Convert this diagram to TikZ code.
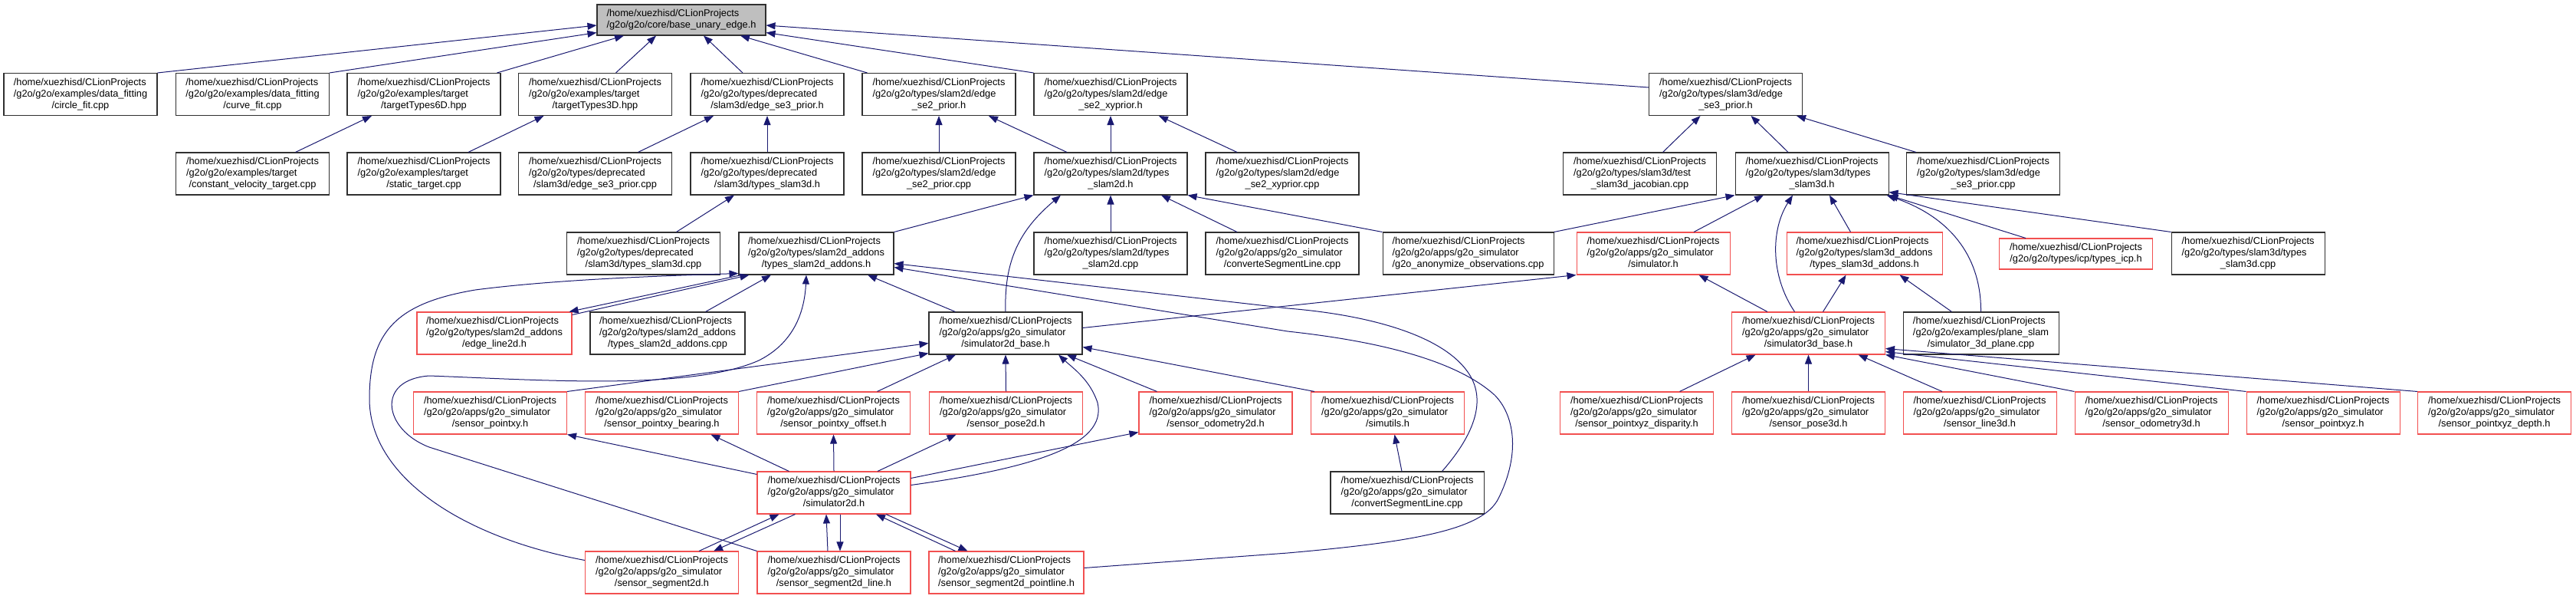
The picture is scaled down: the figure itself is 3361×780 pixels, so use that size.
\documentclass[tikz,border=0pt]{standalone}
\usepackage{fontspec}
\setmainfont{Liberation Sans}
\usetikzlibrary{arrows.meta}
\definecolor{eblue}{HTML}{191970}
\definecolor{bred}{HTML}{F25050}
\definecolor{tgray}{HTML}{BFBFBF}
\definecolor{bblack}{HTML}{303030}
\newcommand\lbl[3]{\begin{tabular}{@{}l@{}}#1\\#2\\\multicolumn{1}{@{}c@{}}{#3}\end{tabular}}
\newcommand\lbltwo[2]{\begin{tabular}{@{}l@{}}#1\\\multicolumn{1}{@{}c@{}}{#2}\end{tabular}}
\newcommand\xhome{/home/xuezhisd/CLionProjects}
\newcommand\xsim{/g2o/g2o/apps/g2o\_simulator}
\newcommand\xsl[1]{\lbl{\xhome}{\xsim}{#1}}
\begin{document}
\begin{tikzpicture}[x=1pt,y=-1pt,
  box/.style={draw=bblack,line width=1.05pt,fill=white,minimum width=200pt,minimum height=55pt,inner sep=0pt,font=\fontsize{12.8}{15}\selectfont},
  rbox/.style={box,draw=bred},
  topbox/.style={box,fill=tgray,minimum width=220pt,minimum height=40pt},
  e/.style={draw=eblue,line width=1pt,-{Triangle[length=12pt,width=9pt]}}]
\useasboundingbox (0,0) rectangle (3361,780);
% row 0
\node[topbox] (top) at (889,26) {\lbltwo{\xhome}{/g2o/g2o/core/base\_unary\_edge.h}};
% row 1
\node[box] (n1a) at (105,123) {\lbl{\xhome}{/g2o/g2o/examples/data\_fitting}{/circle\_fit.cpp}};
\node[box] (n1b) at (329.5,123) {\lbl{\xhome}{/g2o/g2o/examples/data\_fitting}{/curve\_fit.cpp}};
\node[box] (n1c) at (553,123) {\lbl{\xhome}{/g2o/g2o/examples/target}{/targetTypes6D.hpp}};
\node[box] (n1d) at (776.5,123) {\lbl{\xhome}{/g2o/g2o/examples/target}{/targetTypes3D.hpp}};
\node[box] (n1e) at (1001,123) {\lbl{\xhome}{/g2o/g2o/types/deprecated}{/slam3d/edge\_se3\_prior.h}};
\node[box] (n1f) at (1225,123) {\lbl{\xhome}{/g2o/g2o/types/slam2d/edge}{\_se2\_prior.h}};
\node[box] (n1g) at (1449,123) {\lbl{\xhome}{/g2o/g2o/types/slam2d/edge}{\_se2\_xyprior.h}};
\node[box] (n1h) at (2251.5,123) {\lbl{\xhome}{/g2o/g2o/types/slam3d/edge}{\_se3\_prior.h}};
% row 2
\node[box] (n2a) at (329.5,226.5) {\lbl{\xhome}{/g2o/g2o/examples/target}{/constant\_velocity\_target.cpp}};
\node[box] (n2b) at (553,226.5) {\lbl{\xhome}{/g2o/g2o/examples/target}{/static\_target.cpp}};
\node[box] (n2c) at (776.5,226.5) {\lbl{\xhome}{/g2o/g2o/types/deprecated}{/slam3d/edge\_se3\_prior.cpp}};
\node[box] (n2d) at (1001,226.5) {\lbl{\xhome}{/g2o/g2o/types/deprecated}{/slam3d/types\_slam3d.h}};
\node[box] (n2e) at (1225,226.5) {\lbl{\xhome}{/g2o/g2o/types/slam2d/edge}{\_se2\_prior.cpp}};
\node[box] (n2f) at (1449,226.5) {\lbl{\xhome}{/g2o/g2o/types/slam2d/types}{\_slam2d.h}};
\node[box] (n2g) at (1673,226.5) {\lbl{\xhome}{/g2o/g2o/types/slam2d/edge}{\_se2\_xyprior.cpp}};
\node[box] (n2h) at (2139.5,226.5) {\lbl{\xhome}{/g2o/g2o/types/slam3d/test}{\_slam3d\_jacobian.cpp}};
\node[box] (n2i) at (2364,226.5) {\lbl{\xhome}{/g2o/g2o/types/slam3d/types}{\_slam3d.h}};
\node[box] (n2j) at (2587.5,226.5) {\lbl{\xhome}{/g2o/g2o/types/slam3d/edge}{\_se3\_prior.cpp}};
% row 3
\node[box] (n3a) at (839.5,330.5) {\lbl{\xhome}{/g2o/g2o/types/deprecated}{/slam3d/types\_slam3d.cpp}};
\node[box,minimum width=202pt] (n3b) at (1065,330.5) {\lbl{\xhome}{/g2o/g2o/types/slam2d\_addons}{/types\_slam2d\_addons.h}};
\node[box] (n3c) at (1449,330.5) {\lbl{\xhome}{/g2o/g2o/types/slam2d/types}{\_slam2d.cpp}};
\node[box] (n3d) at (1673,330.5) {\xsl{/converteSegmentLine.cpp}};
\node[box,minimum width=223pt] (n3e) at (1915.5,330.5) {\xsl{/g2o\_anonymize\_observations.cpp}};
\node[rbox] (n3f) at (2157,330.5) {\xsl{/simulator.h}};
\node[rbox,minimum width=203pt] (n3g) at (2432.5,330.5) {\lbl{\xhome}{/g2o/g2o/types/slam3d\_addons}{/types\_slam3d\_addons.h}};
\node[rbox,minimum height=40pt] (n3h) at (2708.5,331) {\lbltwo{\xhome}{/g2o/g2o/types/icp/types\_icp.h}};
\node[box] (n3i) at (2933,330.5) {\lbl{\xhome}{/g2o/g2o/types/slam3d/types}{\_slam3d.cpp}};
% row 4
\node[rbox,minimum width=202pt] (n4a) at (645,434.5) {\lbl{\xhome}{/g2o/g2o/types/slam2d\_addons}{/edge\_line2d.h}};
\node[box,minimum width=202pt] (n4b) at (871,434.5) {\lbl{\xhome}{/g2o/g2o/types/slam2d\_addons}{/types\_slam2d\_addons.cpp}};
\node[box] (n4c) at (1312,434.5) {\xsl{/simulator2d\_base.h}};
\node[rbox] (n4d) at (2359.5,434.5) {\xsl{/simulator3d\_base.h}};
\node[box,minimum width=203pt] (n4e) at (2584.5,434.5) {\lbl{\xhome}{/g2o/g2o/examples/plane\_slam}{/simulator\_3d\_plane.cpp}};
% row 5
\node[rbox] (n5a) at (639.5,538.5) {\xsl{/sensor\_pointxy.h}};
\node[rbox] (n5b) at (863.5,538.5) {\xsl{/sensor\_pointxy\_bearing.h}};
\node[rbox] (n5c) at (1087.5,538.5) {\xsl{/sensor\_pointxy\_offset.h}};
\node[rbox] (n5d) at (1312.5,538.5) {\xsl{/sensor\_pose2d.h}};
\node[rbox] (n5e) at (1586,538.5) {\xsl{/sensor\_odometry2d.h}};
\node[rbox] (n5f) at (1810.5,538.5) {\xsl{/simutils.h}};
\node[rbox] (n5g) at (2135.5,538.5) {\xsl{/sensor\_pointxyz\_disparity.h}};
\node[rbox] (n5h) at (2359.5,538.5) {\xsl{/sensor\_pose3d.h}};
\node[rbox] (n5i) at (2583,538.5) {\xsl{/sensor\_line3d.h}};
\node[rbox] (n5j) at (2807,538.5) {\xsl{/sensor\_odometry3d.h}};
\node[rbox] (n5k) at (3031,538.5) {\xsl{/sensor\_pointxyz.h}};
\node[rbox] (n5l) at (3254.5,538.5) {\xsl{/sensor\_pointxyz\_depth.h}};
% row 6
\node[rbox] (n6a) at (1088,642.5) {\xsl{/simulator2d.h}};
\node[box] (n6b) at (1836,642.5) {\xsl{/convertSegmentLine.cpp}};
% row 7
\node[rbox] (n7a) at (863.5,746.5) {\xsl{/sensor\_segment2d.h}};
\node[rbox] (n7b) at (1088,746.5) {\xsl{/sensor\_segment2d\_line.h}};
\node[rbox,minimum width=202pt] (n7c) at (1313,746.5) {\xsl{/sensor\_segment2d\_pointline.h}};
% edges to top
\draw[e] (n1a.north east) -- ([yshift=-7pt]top.west);
\draw[e] (n1b.north east) -- ([yshift=4pt]top.south west);
\draw[e] ([xshift=-5pt]n1c.north east) -- ([xshift=-75pt]top.south);
\draw[e] ([xshift=27pt]n1d.north) -- ([xshift=-33pt]top.south);
\draw[e] ([xshift=-32pt]n1e.north) -- ([xshift=29pt]top.south);
\draw[e] ([xshift=7pt]n1f.north west) -- ([xshift=77pt]top.south);
\draw[e] (n1g.north west) -- ([yshift=4pt]top.south east);
\draw[e] ([yshift=9pt]n1h.west) -- ([yshift=-7pt]top.east);
% row 2 -> row 1
\draw[e] ([xshift=56pt]n2a.north) -- ([xshift=-68pt]n1c.south);
\draw[e] ([xshift=58pt]n2b.north) -- ([xshift=-67pt]n1d.south);
\draw[e] ([xshift=56pt]n2c.north) -- ([xshift=-70pt]n1e.south);
\draw[e] (n2d.north) -- (n1e.south);
\draw[e] (n2e.north) -- (n1f.south);
\draw[e] ([xshift=-57pt]n2f.north) -- ([xshift=65pt]n1f.south);
\draw[e] (n2f.north) -- (n1g.south);
\draw[e] ([xshift=-59pt]n2g.north) -- ([xshift=63pt]n1g.south);
\draw[e] ([xshift=30pt]n2h.north) -- ([xshift=-33pt]n1h.south);
\draw[e] ([xshift=-31pt]n2i.north) -- ([xshift=33pt]n1h.south);
\draw[e] ([xshift=13pt]n2j.north west) -- ([xshift=-8pt]n1h.south east);
% row 3 -> row 2
\draw[e] ([xshift=43pt]n3a.north) -- ([xshift=-43pt]n2d.south);
\draw[e] (n3b.north east) -- (n2f.south west);
\draw[e] (n4c.north) .. controls (1310,340) and (1330,300) .. ([xshift=-65pt]n2f.south);
\draw[e] (n3c.north) -- (n2f.south);
\draw[e] ([xshift=-59pt]n3d.north) -- ([xshift=66pt]n2f.south);
\draw[e] (n3e.north west) -- (n2f.south east);
\draw[e] (n3e.north east) -- (n2i.south west);
\draw[e] ([xshift=53pt]n3f.north) -- ([xshift=-63pt]n2i.south);
\draw[e] ([xshift=-18pt]n4d.north) .. controls (2310,360) and (2310,300) .. ([xshift=-25pt]n2i.south);
\draw[e] ([xshift=-18pt]n3g.north) -- ([xshift=23pt]n2i.south);
\draw[e] ([xshift=35pt]n3h.north west) -- (n2i.south east);
\draw[e] (n3i.north west) -- ([yshift=4pt]n2i.south east);
\draw[e] (n4e.north) .. controls (2585,340) and (2550,285) .. ([xshift=-3pt]n2i.south east);
% into simulator.h and types_slam3d_addons.h
\draw[e] ([yshift=7pt]n4c.east) -- (n3f.south west);
\draw[e] ([xshift=47pt]n4d.north west) -- ([xshift=-41pt]n3f.south east);
\draw[e] ([xshift=19pt]n4d.north) -- ([xshift=-24pt]n3g.south);
\draw[e] ([xshift=64pt]n4e.north west) -- ([xshift=46pt]n3g.south);
% into simulator3d_base.h
\draw[e] ([xshift=56pt]n5g.north) -- ([xshift=-69pt]n4d.south);
\draw[e] (n5h.north) -- (n4d.south);
\draw[e] ([xshift=-49pt]n5i.north) -- ([xshift=65pt]n4d.south);
\draw[e] (n5j.north west) -- (n4d.south east);
\draw[e] (n5k.north west) -- ([yshift=4pt]n4d.south east);
\draw[e] (n5l.north west) -- ([yshift=8pt]n4d.south east);
% into types_slam2d_addons.h
\draw[e] ([xshift=4pt]n3b.south west) -- ([xshift=-4pt]n4a.north east);
\draw[e] ([yshift=-4pt]n4a.north east) -- ([xshift=14pt]n3b.south west);
\draw[e] ([xshift=-52pt]n4b.north east) -- ([xshift=-59pt]n3b.south);
\draw[e] ([xshift=35pt]n4c.north west) -- ([xshift=67pt]n3b.south);
\draw[e] ([yshift=16pt]n7a.west) .. controls (600,700) and (482,620) .. (482,520)
   .. controls (482,430) and (520,395) .. (620,378) .. controls (720,365) and (850,360) .. ([yshift=2pt]n3b.south west);
\draw[e] (n7b.north west) -- (560,583) .. controls (500,560) and (490,495) .. (560,490)
   .. controls (700,495) and (900,510) .. (990,470) .. controls (1040,445) and (1050,400) .. ([xshift=-13pt]n3b.south);
\draw[e] ([xshift=-55pt]n6b.north east) .. controls (1925,565) and (1940,520) .. (1915,485)
   .. controls (1880,435) and (1780,410) .. (1680,402) -- ([yshift=-13pt]n3b.east);
\draw[e] ([yshift=6pt]n7c.east) -- (1680,721) .. controls (1850,706) and (1935,690) .. (1955,650)
   .. controls (1985,590) and (1975,540) .. (1950,515) .. controls (1900,470) and (1800,445) .. (1680,432)
   -- ([yshift=-18pt]n3b.east);
% into simulator2d_base.h
\draw[e] (n5a.north east) -- ([yshift=-13pt]n4c.west);
\draw[e] (n5b.north east) -- ([yshift=2pt]n4c.south west);
\draw[e] ([xshift=57pt]n5c.north) -- ([xshift=-65pt]n4c.south);
\draw[e] (n5d.north) -- (n4c.south);
\draw[e] ([yshift=10pt]n6a.east) .. controls (1350,610) and (1445,580) .. (1432,525)
   .. controls (1422,495) and (1400,480) .. ([xshift=69pt]n4c.south);
\draw[e] ([xshift=24pt]n5e.north west) -- ([xshift=80pt]n4c.south);
\draw[e] ([xshift=5pt]n5f.north west) -- ([yshift=-18pt]n4c.east);
% from simulator2d.h to sensors
\draw[e] ([yshift=-4pt]n6a.north west) -- (n5a.south east);
\draw[e] ([xshift=42pt]n6a.north west) -- ([xshift=64pt]n5b.south);
\draw[e] (n6a.north) -- (n5c.south);
\draw[e] ([xshift=57pt]n6a.north) -- ([xshift=-65pt]n5d.south);
\draw[e] ([yshift=19pt]n6a.east) -- ([yshift=3pt]n5e.south west);
% simulator2d.h <-> segment sensors
\draw[e] ([xshift=-52pt]n7a.north east) -- ([xshift=29pt]n6a.south west);
\draw[e] ([xshift=50pt]n6a.south west) -- ([xshift=-33pt]n7a.north east);
\draw[e] ([xshift=-8pt]n7b.north) -- ([xshift=-10pt]n6a.south);
\draw[e] ([xshift=8pt]n6a.south) -- ([xshift=8pt]n7b.north);
\draw[e] ([xshift=35pt]n7c.north west) -- ([xshift=55pt]n6a.south);
\draw[e] ([xshift=68pt]n6a.south) -- ([xshift=51pt]n7c.north west);
% simutils
\draw[e] ([xshift=-7pt]n6b.north) -- ([xshift=9pt]n5f.south);
\end{tikzpicture}
\end{document}
